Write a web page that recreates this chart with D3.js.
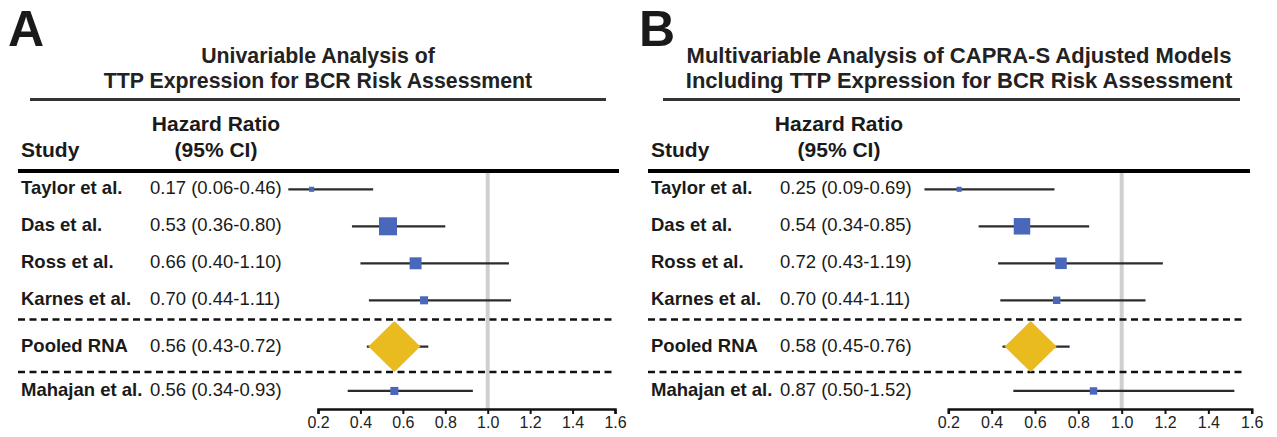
<!DOCTYPE html>
<html>
<head>
<meta charset="utf-8">
<script src="https://cdn.jsdelivr.net/npm/d3@7"></script>
<style>
  body { margin: 0; background: #fff; }
  svg { display: block; font-family: "Liberation Sans", Arial, sans-serif; }
</style>
</head>
<body>
<div id="chart"></div>
<script>
// data
var studies = ["Taylor et al.", "Das et al.", "Ross et al.", "Karnes et al.", "Pooled RNA", "Mahajan et al."];
var isPooled = [false, false, false, false, true, false];

// panel A - univariable
var hrA = [0.17, 0.53, 0.66, 0.70, 0.56, 0.56];
var lowA = [0.06, 0.36, 0.40, 0.44, 0.43, 0.34];
var highA = [0.46, 0.80, 1.10, 1.11, 0.72, 0.93];
var weightA = [8, 100, 44, 20, 0, 20];

// panel B - multivariable (CAPRA-S adjusted)
var hrB = [0.25, 0.54, 0.72, 0.70, 0.58, 0.87];
var lowB = [0.09, 0.34, 0.43, 0.44, 0.45, 0.50];
var highB = [0.69, 0.85, 1.19, 1.11, 0.76, 1.52];
var weightB = [8, 84, 41, 17, 0, 17];

var tickValues = [0.2, 0.4, 0.6, 0.8, 1.0, 1.2, 1.4, 1.6];
var titleA = ["Univariable Analysis of", "TTP Expression for BCR Risk Assessment"];
var titleB = ["Multivariable Analysis of CAPRA-S Adjusted Models", "Including TTP Expression for BCR Risk Assessment"];

var svgWidth = 1277;
var svgHeight = 437;

var svg = d3.select("#chart")
    .append("svg")
    .attr("width", svgWidth)
    .attr("height", svgHeight);

svg.append("rect").attr("width", svgWidth).attr("height", svgHeight).attr("fill", "#fff");

// row slots (gaps around the pooled row)
var rowSlot = [0, 1, 2, 3, 4.25, 5.45];
var yRow = d3.scaleLinear().domain([0, 1]).range([189.3, 226.3]);

var sizeScale = d3.scaleSqrt().domain([0, 100]).range([0, 18]);

function drawPanel(p) {
    var g = svg.append("g");

    var x = d3.scaleLinear()
        .domain([0.2, 1.6])
        .range([p.axisLeft, p.axisRight]);

    var rows = studies.map(function(s, i) {
        return {name: s, hr: p.hr[i], lo: p.low[i], hi: p.high[i], w: p.weight[i], pooled: isPooled[i], slot: rowSlot[i]};
    });

    // panel letter
    g.append("text")
        .attr("x", p.letterX)
        .attr("y", 46)
        .attr("font-size", 50)
        .attr("font-weight", "bold")
        .attr("fill", "#1a1a1a")
        .text(p.letter);

    // title
    g.selectAll("text.title")
        .data(p.title)
        .enter()
        .append("text")
        .attr("class", "title")
        .attr("x", p.titleX)
        .attr("y", (d, i) => 63 + i * 25)
        .attr("text-anchor", "middle")
        .attr("font-size", p.titleSize)
        .attr("font-weight", "bold")
        .attr("fill", "#222")
        .text(d => d);

    g.append("line")
        .attr("x1", p.ruleX1).attr("x2", p.ruleX2)
        .attr("y1", 99.5).attr("y2", 99.5)
        .attr("stroke", "#333")
        .attr("stroke-width", 3);

    // column heads
    g.append("text")
        .attr("x", p.hrHeadX).attr("y", 131)
        .attr("text-anchor", "middle")
        .attr("font-size", 21).attr("font-weight", "bold").attr("fill", "#1a1a1a")
        .text("Hazard Ratio");
    g.append("text")
        .attr("x", p.hrHeadX).attr("y", 157)
        .attr("text-anchor", "middle")
        .attr("font-size", 21).attr("font-weight", "bold").attr("fill", "#1a1a1a")
        .text("(95% CI)");
    g.append("text")
        .attr("x", p.studyX).attr("y", 157)
        .attr("font-size", 21).attr("font-weight", "bold").attr("fill", "#1a1a1a")
        .text("Study");

    // reference line at HR = 1
    g.append("line")
        .attr("x1", x(1)).attr("x2", x(1))
        .attr("y1", 171).attr("y2", 409)
        .attr("stroke", "#cfcfcf")
        .attr("stroke-width", 4);

    g.append("line")
        .attr("x1", p.tableX1).attr("x2", p.tableX2)
        .attr("y1", 171).attr("y2", 171)
        .attr("stroke", "#000")
        .attr("stroke-width", 4);

    // dashed separators around pooled row
    [3.52, 4.94].forEach(function(s) {
        g.append("line")
            .attr("x1", p.tableX1).attr("x2", p.tableX2 - 4)
            .attr("y1", yRow(s)).attr("y2", yRow(s))
            .attr("stroke", "#111")
            .attr("stroke-width", 2.5)
            .attr("stroke-dasharray", "7,4.5");
    });

    // labels
    g.selectAll("text.study")
        .data(rows)
        .enter()
        .append("text")
        .attr("class", "study")
        .attr("x", p.studyX)
        .attr("y", d => yRow(d.slot) + 5)
        .attr("font-size", 18.5).attr("font-weight", "bold").attr("fill", "#1a1a1a")
        .text(d => d.name);

    g.selectAll("text.ci")
        .data(rows)
        .enter()
        .append("text")
        .attr("class", "ci")
        .attr("x", p.ciTextX)
        .attr("y", d => yRow(d.slot) + 5)
        .attr("font-size", 18.5).attr("fill", "#1a1a1a")
        .text(d => d.hr.toFixed(2) + " (" + d.lo.toFixed(2) + "-" + d.hi.toFixed(2) + ")");

    // CI whiskers
    g.selectAll("line.ci")
        .data(rows)
        .enter()
        .append("line")
        .attr("class", "ci")
        .attr("x1", d => x(d.lo)).attr("x2", d => x(d.hi))
        .attr("y1", d => yRow(d.slot)).attr("y2", d => yRow(d.slot))
        .attr("stroke", "#2b2b2b")
        .attr("stroke-width", 2.2);

    // study squares
    g.selectAll("rect.est")
        .data(rows.filter(d => !d.pooled))
        .enter()
        .append("rect")
        .attr("class", "est")
        .attr("x", d => x(d.hr) - sizeScale(d.w) / 2)
        .attr("y", d => yRow(d.slot) - sizeScale(d.w) / 2)
        .attr("width", d => sizeScale(d.w))
        .attr("height", d => sizeScale(d.w))
        .attr("fill", "#4a68bb");

    // pooled diamond
    g.selectAll("path.pooled")
        .data(rows.filter(d => d.pooled))
        .enter()
        .append("path")
        .attr("class", "pooled")
        .attr("d", function(d) {
            var cx = x(d.hr), cy = yRow(d.slot), hw = 26, hh = 25.5;
            return "M" + (cx - hw) + "," + cy + "L" + cx + "," + (cy - hh) +
                   "L" + (cx + hw) + "," + cy + "L" + cx + "," + (cy + hh) + "Z";
        })
        .attr("fill", "#e9bb1f");

    // x axis
    var axis = g.append("g")
        .attr("transform", "translate(0, 409)")
        .call(d3.axisBottom(x)
            .tickValues(tickValues)
            .tickSize(5)
            .tickSizeOuter(5)
            .tickFormat(d3.format(".1f")));
    axis.select(".domain").attr("stroke", "#111").attr("stroke-width", 2.5);
    axis.selectAll(".tick line").attr("stroke", "#111").attr("stroke-width", 2);
    axis.selectAll(".tick text")
        .attr("font-family", "'Liberation Sans', Arial, sans-serif")
        .attr("font-size", 16)
        .attr("fill", "#222");
}

drawPanel({
    letter: "A", letterX: 8, title: titleA, titleX: 318, titleSize: 21.3,
    ruleX1: 30, ruleX2: 606, tableX1: 18, tableX2: 619,
    studyX: 21, ciTextX: 150, hrHeadX: 216,
    axisLeft: 318, axisRight: 615,
    hr: hrA, low: lowA, high: highA, weight: weightA
});

drawPanel({
    letter: "B", letterX: 639, title: titleB, titleX: 959, titleSize: 22,
    ruleX1: 663, ruleX2: 1240, tableX1: 648, tableX2: 1250,
    studyX: 651, ciTextX: 780, hrHeadX: 839,
    axisLeft: 948.3, axisRight: 1251.7,
    hr: hrB, low: lowB, high: highB, weight: weightB
});
</script>
</body>
</html>
